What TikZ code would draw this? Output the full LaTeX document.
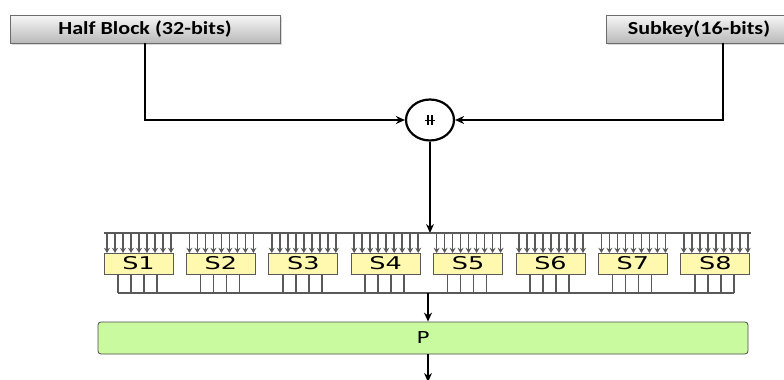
\documentclass[tikz,border=0pt]{standalone}
\usepackage{fontspec}
\setmainfont{Carlito}
\newfontfamily\boxfont{DejaVu Sans}
\usetikzlibrary{arrows.meta}
\usetikzlibrary{shapes.geometric}
\usetikzlibrary{shadows}
\definecolor{sboxyellow}{RGB}{255,249,176}
\definecolor{pgreen}{RGB}{201,250,160}
\tikzset{keybox/.style={draw=gray!85!black,top color=gray!6,bottom color=gray!55,inner sep=0pt,minimum height=14pt,font=\bfseries\fontsize{9.2}{10}\selectfont,drop shadow={opacity=0.3,shadow xshift=1pt,shadow yshift=-1pt}}}
\tikzset{sbox/.style={draw=gray!70!black,fill=sboxyellow,minimum width=34.5pt,minimum height=10.5pt,inner sep=0pt,font=\boxfont\fontsize{8.8}{9}\selectfont}}
\tikzset{arrow/.style={line width=0.65pt,-{Stealth[length=4.5pt,width=4pt]}}}
\tikzset{wire/.style={line width=0.75pt,draw=black!65,-{Stealth[length=2.6pt,width=3pt]}}}
\tikzset{bus/.style={line width=0.75pt,draw=black!65}}

\begin{document}
\begin{tikzpicture}[x=0.5pt,y=-0.5pt]
            \useasboundingbox (0,0) rectangle (784,380);
            % key inputs
            \node[keybox,minimum width=135pt] (hb) at (145,29) {\scalebox{1.2}[1]{Half Block (32-bits)}};
            \node[keybox,minimum width=93pt] (sk) at (699,29) {\scalebox{1.2}[1]{Subkey(16-bits)}};
            \coordinate (skdown) at (723,43);
            \node[draw,ellipse,line width=1.1pt,minimum width=24pt,minimum height=20.5pt,inner sep=0pt] (xor) at (430,120) {};
            \draw[line width=0.8pt] ([xshift=-1.1pt,yshift=2.6pt]xor.center) -- ++(0,-5.2pt);
            \draw[line width=0.8pt] ([xshift=1.1pt,yshift=2.6pt]xor.center) -- ++(0,-5.2pt);
            \draw[line width=0.8pt] ([xshift=-2.4pt,yshift=-0.2pt]xor.center) -- ++(4.8pt,0);
            \draw[arrow] (hb.south) |- (xor.west);
            \draw[arrow] (skdown) |- (xor.east);
            % spread to the S-boxes
            \coordinate (spread) at (430,233);
            \draw[arrow] (xor.south) -- (spread);
            \draw[bus] (104,233) -- (751,233);
            \foreach \i in {1,...,8} {
                \pgfmathsetmacro{\xl}{104+(\i-1)*82.4}
                \node[sbox] (s\i) at (\xl+34.5,263.5) {\scalebox{1.45}[1]{S\i}};
                \foreach \k in {0,...,8}
                    \draw[wire] (\xl+3+\k*8,233) -- (\xl+3+\k*8,253);
                \foreach \k in {14,27,40,53}
                    \draw[bus] (\xl+\k,274) -- (\xl+\k,293);
            }
            \draw[bus] (118,293) -- (734,293);
            % permutation
            \node[draw=gray!60!black,fill=pgreen,rounded corners=1.5pt,minimum width=325pt,minimum height=16pt,inner sep=0pt,font=\boxfont\fontsize{8.2}{9}\selectfont] (p) at (423,338) {\scalebox{1.3}[1]{P}};
            \coordinate (merge) at (428,293);
            \coordinate (pout) at (428,382);
            \draw[arrow] (merge) -- (merge |- p.north);
            \draw[arrow] (p.south -| merge) -- (pout);
        \end{tikzpicture}
\end{document}
